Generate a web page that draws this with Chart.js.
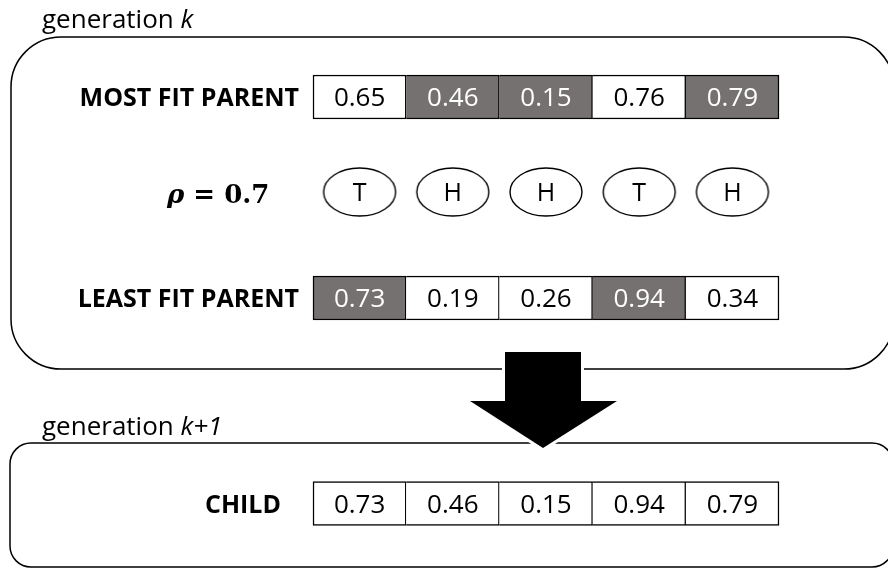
<!DOCTYPE html>
<html>
<head>
<meta charset="utf-8">
<script src="https://cdn.jsdelivr.net/npm/chart.js@4.4.1/dist/chart.umd.min.js"></script>
<style>
  html, body { margin: 0; padding: 0; background: #fff; overflow: hidden; }
  canvas { display: block; }
</style>
</head>
<body>
<canvas id="diagram" width="888" height="568"></canvas>
<script>
// values
const mostFit = [0.65, 0.46, 0.15, 0.76, 0.79];
const leastFit = [0.73, 0.19, 0.26, 0.94, 0.34];
const coinFlips = ['T', 'H', 'H', 'T', 'H'];
const childGenes = [0.73, 0.46, 0.15, 0.94, 0.79];
const rho = 0.7;
const rowLabels = ['MOST FIT PARENT', 'LEAST FIT PARENT', 'CHILD'];

// layout (pixels)
const W = 888, H = 568;
const cellLeft = 313, cellW = 93.2;
const rowY = { most: 97, coin: 192, least: 298, child: 503.5 };
const GRAY = '#767171';
const SANS = '"Open Sans", "Noto Sans", sans-serif';
const SERIF = '"DejaVu Serif", serif';

// H keeps the gene of the most fit parent, T the one of the least fit parent
const mostShade = coinFlips.map(c => c === 'H');
const leastShade = coinFlips.map(c => c === 'T');
const childShade = childGenes.map(() => false);

function cellRow(values, y, shaded) {
  return {
    type: 'bar',
    indexAxis: 'y',
    data: values.map((v, i) => ({ x: [i, i + 1], y: y, v: v })),
    backgroundColor: shaded.map(s => s ? GRAY : '#ffffff'),
    textColor: shaded.map(s => s ? '#ffffff' : '#000000'),
    borderColor: '#000000',
    borderWidth: 1.5,
    borderSkipped: ctx => ctx.dataIndex === 0 ? false : 'left',
    barThickness: 44,
    grouped: false
  };
}

// ellipse used as the point style of the coin flips
const coinImg = document.createElement('canvas');
coinImg.width = 76; coinImg.height = 52;
(function () {
  const c = coinImg.getContext('2d');
  c.strokeStyle = '#000';
  c.lineWidth = 1.4;
  c.beginPath();
  c.ellipse(38, 26, 36, 24, 0, 0, Math.PI * 2);
  c.stroke();
})();

function roundBox(ctx, x0, y0, x1, y1, r) {
  ctx.beginPath();
  ctx.moveTo(x0 + r, y0);
  ctx.arcTo(x1, y0, x1, y1, r);
  ctx.arcTo(x1, y1, x0, y1, r);
  ctx.arcTo(x0, y1, x0, y0, r);
  ctx.arcTo(x0, y0, x1, y0, r);
  ctx.closePath();
  ctx.stroke();
}

function capText(ctx, str, x, cy, font, align, color) {
  ctx.font = font;
  ctx.fillStyle = color || '#000';
  ctx.textAlign = align;
  ctx.textBaseline = 'alphabetic';
  const asc = ctx.measureText('H').actualBoundingBoxAscent;
  ctx.fillText(str, x, cy + asc / 2);
}

function genTitle(ctx, plain, italic, x, baseline) {
  ctx.textAlign = 'left';
  ctx.textBaseline = 'alphabetic';
  ctx.fillStyle = '#000';
  ctx.font = '26px ' + SANS;
  ctx.fillText(plain, x, baseline);
  const w = ctx.measureText(plain).width;
  ctx.font = 'italic 26px ' + SANS;
  ctx.fillText(italic, x + w, baseline);
}

const diagramPlugin = {
  id: 'diagram',
  beforeDraw(chart) {
    const ctx = chart.ctx;
    ctx.save();
    ctx.fillStyle = '#ffffff';
    ctx.fillRect(0, 0, W, H);
    ctx.restore();
  },
  beforeDatasetsDraw(chart) {
    const ctx = chart.ctx;
    ctx.save();
    ctx.strokeStyle = '#000';
    ctx.lineWidth = 1.5;
    roundBox(ctx, 11, 37, 894, 369, 50);
    roundBox(ctx, 10, 443, 893, 567, 21);

    // arrow between the generations
    ctx.beginPath();
    ctx.moveTo(505, 352);
    ctx.lineTo(581, 352);
    ctx.lineTo(581, 401);
    ctx.lineTo(617, 401);
    ctx.lineTo(543, 448);
    ctx.lineTo(470, 401);
    ctx.lineTo(505, 401);
    ctx.closePath();
    ctx.strokeStyle = '#ffffff';
    ctx.lineWidth = 6;
    ctx.lineJoin = 'miter';
    ctx.stroke();
    ctx.fillStyle = '#000000';
    ctx.fill();

    genTitle(ctx, 'generation ', 'k', 42, 28);
    genTitle(ctx, 'generation ', 'k+1', 42, 435);

    const bold = 'bold 25px ' + SANS;
    capText(ctx, rowLabels[0], 299, rowY.most, bold, 'right');
    capText(ctx, rowLabels[1], 299, rowY.least, bold, 'right');
    capText(ctx, rowLabels[2], 281, rowY.child, bold, 'right');

    // rho = 0.7
    ctx.fillStyle = '#000';
    ctx.textAlign = 'left';
    ctx.textBaseline = 'alphabetic';
    ctx.font = 'bold italic 26px ' + SERIF;
    ctx.fillText('\u03C1', 167, 203);
    const rw = ctx.measureText('\u03C1').width;
    ctx.font = 'bold 26px ' + SERIF;
    ctx.fillText(' = ' + rho.toFixed(1), 167 + rw, 203);
    ctx.restore();
  },
  afterDatasetsDraw(chart) {
    const ctx = chart.ctx;
    ctx.save();
    chart.data.datasets.forEach((ds, di) => {
      const meta = chart.getDatasetMeta(di);
      meta.data.forEach((el, i) => {
        const p = el.getCenterPoint();
        if (ds.type === 'bar') {
          capText(ctx, ds.data[i].v.toFixed(2), p.x, p.y, '26px ' + SANS, 'center', ds.textColor[i]);
        } else {
          capText(ctx, ds.data[i].c, p.x, p.y, '25px ' + SANS, 'center', '#000');
        }
      });
    });
    ctx.restore();
  }
};

new Chart(document.getElementById('diagram'), {
  type: 'bar',
  data: {
    datasets: [
      cellRow(mostFit, rowY.most, mostShade),
      cellRow(leastFit, rowY.least, leastShade),
      cellRow(childGenes, rowY.child, childShade),
      {
        type: 'scatter',
        data: coinFlips.map((c, i) => ({ x: i + 0.5, y: rowY.coin, c: c })),
        pointStyle: coinImg,
        pointRadius: 36,
        showLine: false,
        clip: false
      }
    ]
  },
  options: {
    responsive: false,
    devicePixelRatio: 1,
    animation: false,
    events: [],
    layout: { padding: 0, autoPadding: false },
    plugins: { legend: { display: false }, tooltip: { enabled: false } },
    scales: {
      x: { type: 'linear', display: false, offset: false, min: -cellLeft / cellW, max: (W - cellLeft) / cellW },
      y: { type: 'linear', display: false, offset: false, min: 0, max: H, reverse: true }
    }
  },
  plugins: [diagramPlugin]
});
</script>
</body>
</html>
